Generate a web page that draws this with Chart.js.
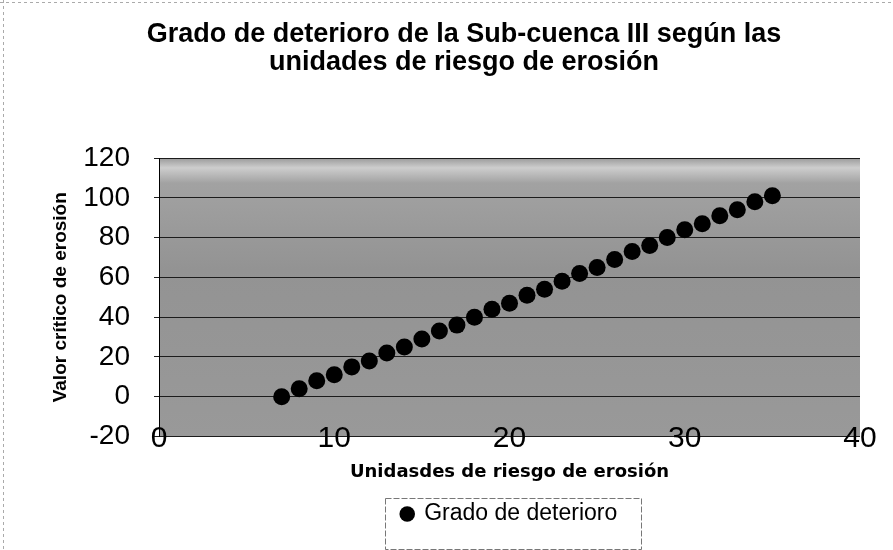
<!DOCTYPE html>
<html lang="es">
<head>
<meta charset="UTF-8">
<title>Grado de deterioro de la Sub-cuenca III</title>
<script src="https://cdn.jsdelivr.net/npm/chart.js@4/dist/chart.umd.min.js"></script>
<style>
  body { margin: 0; background: #fff; }
  canvas { display: block; }
</style>
</head>
<body>
<canvas id="graficaDeterioro" width="893" height="550"></canvas>
<script>
// Unidades de riesgo de erosión (eje X)
const unidadesRiesgo = [7, 8, 9, 10, 11, 12, 13, 14, 15, 16, 17, 18, 19, 20, 21,
    22, 23, 24, 25, 26, 27, 28, 29, 30, 31, 32, 33, 34, 35];
// Valor crítico de erosión (eje Y)
const valoresCriticos = [0, 4, 8, 11, 15, 18, 22, 25, 29, 33, 36, 40, 44, 47, 51,
    54, 58, 62, 65, 69, 73, 76, 80, 84, 87, 91, 94, 98, 101];
const ticksX = [0, 10, 20, 30, 40];
const ticksY = [-20, 0, 20, 40, 60, 80, 100, 120];

const tituloGrafica = ['Grado de deterioro de la Sub-cuenca III según las', 'unidades de riesgo de erosión'];
const tituloEjeX = 'Unidasdes de riesgo de erosión';
const tituloEjeY = 'Valor crítico de erosión';
const nombreSerie = 'Grado de deterioro';

Chart.defaults.font.family = "'Liberation Sans', Arial, sans-serif";
Chart.defaults.color = '#000';

// fondo gris del área de trazado (imita la trama del original)
const fondoArea = {
    id: 'fondoArea',
    beforeDraw(chart) {
        const { ctx, chartArea: { left, top, right, bottom } } = chart;
        const grad = ctx.createLinearGradient(0, top, 0, bottom);
        grad.addColorStop(0, '#9a9a9a');
        grad.addColorStop(0.035, '#cdcdcd');
        grad.addColorStop(0.09, '#a2a2a2');
        grad.addColorStop(0.4, '#939393');
        grad.addColorStop(1, '#999999');
        ctx.save();
        ctx.fillStyle = grad;
        ctx.fillRect(left, top, right - left, bottom - top);
        ctx.restore();
    }
};

// recoloca título y leyenda, etiquetas del eje X y marco de la leyenda
const ajusteCajas = {
    id: 'ajusteCajas',
    afterLayout(chart) {
        chart.titleBlock.left = 35;
        chart.titleBlock.right = chart.width;
        chart.legend.left = chart.chartArea.left;
        chart.legend.right = chart.chartArea.right;
    },
    afterDraw(chart) {
        const ctx = chart.ctx;
        const escalaX = chart.scales.x;

        // etiquetas del eje X: en el original montan sobre el borde inferior
        ctx.save();
        ctx.fillStyle = '#000';
        ctx.font = "30px 'Liberation Sans', Arial, sans-serif";
        ctx.textAlign = 'center';
        ctx.textBaseline = 'middle';
        escalaX.ticks.forEach(t => {
            ctx.fillText(String(t.value), escalaX.getPixelForValue(t.value), chart.chartArea.bottom + 2);
        });
        ctx.restore();

        const caja = chart.legend.legendHitBoxes[0];
        ctx.save();
        ctx.strokeStyle = '#777';
        ctx.lineWidth = 1;
        ctx.setLineDash([6, 2]);
        ctx.strokeRect(Math.round(caja.left - 17) + 0.5, Math.round(caja.top - 5) + 0.5,
            Math.round(caja.width + 40), Math.round(chart.height - caja.top + 3));
        // borde exterior del gráfico escaneado
        ctx.strokeStyle = '#aaa';
        ctx.setLineDash([3, 3]);
        ctx.beginPath();
        ctx.moveTo(0, 2.5);
        ctx.lineTo(chart.width, 2.5);
        ctx.moveTo(3.5, 0);
        ctx.lineTo(3.5, chart.height);
        ctx.stroke();
        ctx.restore();
    }
};

const ctx = document.getElementById('graficaDeterioro').getContext('2d');
const grafica = new Chart(ctx, {
    type: 'scatter',
    data: {
        datasets: [
            {
                label: nombreSerie,
                data: unidadesRiesgo.map((x, i) => ({ x: x, y: valoresCriticos[i] })),
                pointStyle: 'circle',
                pointRadius: 8.5,
                pointHoverRadius: 8.5,
                backgroundColor: '#000',
                borderColor: '#000',
                borderWidth: 0,
            },
        ],
    },
    options: {
        responsive: false,
        animation: false,
        layout: {
            padding: { left: 0, right: 33, top: 0, bottom: 14.5 },
        },
        plugins: {
            title: {
                display: true,
                text: tituloGrafica,
                font: { size: 27, weight: 'bold', lineHeight: 1.06 },
                color: '#000',
                padding: { top: 20, bottom: 80.8 },
            },
            legend: {
                display: true,
                position: 'bottom',
                labels: {
                    usePointStyle: true,
                    boxWidth: 11,
                    boxHeight: 11,
                    padding: 10,
                    color: '#000',
                    font: { size: 23 },
                },
            },
            tooltip: { enabled: false },
        },
        scales: {
            x: {
                type: 'linear',
                min: ticksX[0],
                max: ticksX[ticksX.length - 1],
                afterFit(scale) { scale.height = 56; },
                ticks: {
                    stepSize: ticksX[1] - ticksX[0],
                    display: false,
                },
                grid: { display: false, drawTicks: false },
                border: { display: false },
                title: {
                    display: true,
                    text: tituloEjeX,
                    color: '#000',
                    font: { family: "'DejaVu Sans', Verdana, sans-serif", size: 18, weight: 'bold' },
                    padding: { top: 0, bottom: 9 },
                },
            },
            y: {
                type: 'linear',
                min: ticksY[0],
                max: ticksY[ticksY.length - 1],
                afterFit(scale) { scale.width = 159; },
                ticks: {
                    stepSize: ticksY[1] - ticksY[0],
                    padding: 24,
                    color: '#000',
                    font: { size: 28 },
                },
                grid: { color: '#1c1c1c', lineWidth: 1, tickLength: 5 },
                border: { display: true, color: '#000', width: 1 },
                title: {
                    display: true,
                    text: tituloEjeY,
                    color: '#000',
                    font: { size: 19, weight: 'bold' },
                    padding: { top: 49, bottom: 0 },
                },
            },
        },
    },
    plugins: [fondoArea, ajusteCajas],
});
</script>
</body>
</html>
